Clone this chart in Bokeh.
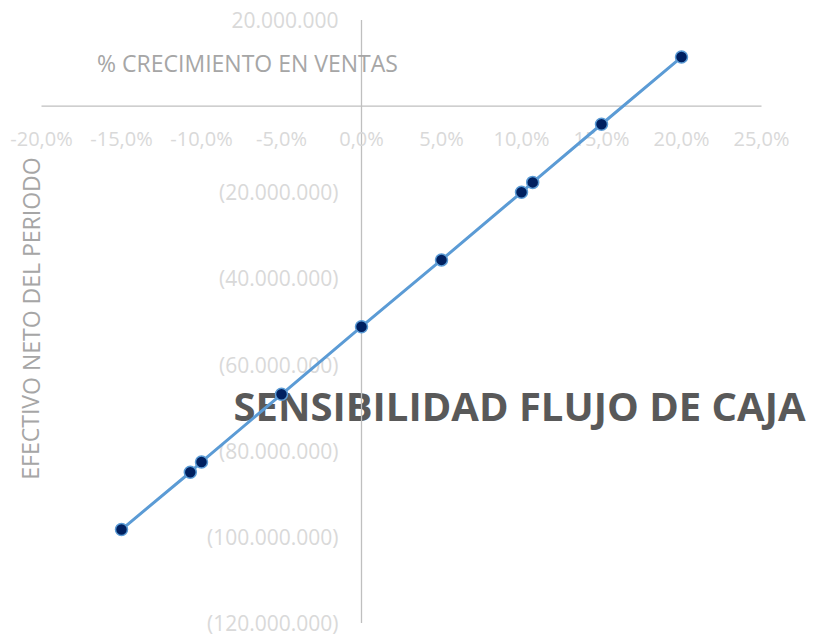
from bokeh.plotting import figure
from bokeh.models import Range1d
from bokeh.core.properties import value
from bokeh.embed import file_html
from bokeh.resources import INLINE

# ---- data ----
growth = [-15.0, -10.7, -10.0, -5.0, 0.0, 5.0, 10.0, 10.7, 15.0, 20.0]  # % sales growth
cash = [-98_300_000, -85_000_000, -82_600_000, -66_900_000, -51_200_000,
        -35_700_000, -20_000_000, -17_700_000, -4_200_000, 11_400_000]

x_ticks = [-20, -15, -10, -5, 0, 5, 10, 15, 20, 25]
x_tick_labels = ["-20,0%", "-15,0%", "-10,0%", "-5,0%", "0,0%",
                 "5,0%", "10,0%", "15,0%", "20,0%", "25,0%"]
y_ticks = [20_000_000, -20_000_000, -40_000_000, -60_000_000,
           -80_000_000, -100_000_000, -120_000_000]
y_tick_labels = ["20.000.000", "(20.000.000)", "(40.000.000)", "(60.000.000)",
                 "(80.000.000)", "(100.000.000)", "(120.000.000)"]

title = "SENSIBILIDAD FLUJO DE CAJA"
x_title = "% CRECIMIENTO EN VENTAS"
y_title = "EFECTIVO NETO DEL PERIODO"

# ---- layout ----
W, H = 817, 638
x_lo, x_hi = x_ticks[0], x_ticks[-1]
y_hi, y_lo = y_ticks[0], y_ticks[-1]
px_x0, px_x1 = 41, 761          # pixel positions of x_lo, x_hi
px_ytop, px_ybot = 19.5, 622.5  # pixel positions of y_hi, y_lo (from top)
sx = (px_x1 - px_x0) / (x_hi - x_lo)
sy = (px_ybot - px_ytop) / (y_hi - y_lo)

p = figure(width=W, height=H, output_backend="svg", toolbar_location=None,
           x_axis_location=None, y_axis_location=None, min_border=0,
           x_range=Range1d(x_lo - px_x0 / sx, x_hi + (W - px_x1) / sx),
           y_range=Range1d(y_lo - (H - px_ybot) / sy, y_hi + px_ytop / sy))
p.outline_line_color = None
p.background_fill_color = "white"
p.border_fill_color = "white"
p.grid.grid_line_color = None
p.grid.visible = False

FONT = value("Open Sans")

def px_to_x(px):
    return x_lo + (px - px_x0) / sx

def px_to_y(py):
    return y_hi - (py - px_ytop) / sy

# chart title
p.text(x=[px_to_x(233)], y=[px_to_y(404.5)], text=[title],
       text_font=FONT, text_font_size="40px", text_font_style="bold",
       text_color="#595959", text_align="left", text_baseline="middle")

# axis lines crossing at origin
p.segment(x0=[x_lo], y0=[0], x1=[x_hi], y1=[0], line_color="#BFBFBF", line_width=1.3)
p.segment(x0=[0], y0=[y_lo], x1=[0], y1=[y_hi], line_color="#BFBFBF", line_width=1.3)

# tick labels
p.text(x=x_ticks, y=[0] * len(x_ticks), text=x_tick_labels, text_font=FONT,
       text_font_size="20px", text_color="#D9D9D9", text_align="center",
       text_baseline="middle", y_offset=32)
p.text(x=[0] * len(y_ticks), y=y_ticks, text=y_tick_labels, text_font=FONT,
       text_font_size="21px", text_color="#D9D9D9", text_align="right",
       text_baseline="middle", x_offset=-23)

# axis titles
p.text(x=[px_to_x(247)], y=[px_to_y(62)], text=[x_title],
       text_font=FONT, text_font_size="23px", text_color="#A6A6A6",
       text_align="center", text_baseline="middle")
p.text(x=[px_to_x(30)], y=[px_to_y(318)], text=[y_title],
       text_font=FONT, text_font_size="23px", text_color="#A6A6A6",
       text_align="center", text_baseline="middle", angle=1.5707963)

# series
p.line(growth, cash, line_color="#5B9BD5", line_width=3)
p.scatter(growth, cash, size=12, fill_color="#002060", line_color="#5B9BD5", line_width=1.5)

open("out.html", "w").write(file_html(p, INLINE))
